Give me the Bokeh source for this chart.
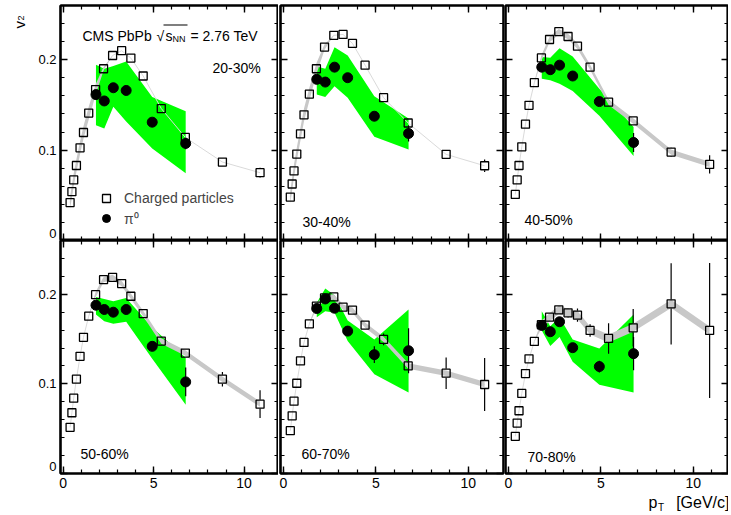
import math
from bokeh.plotting import figure
from bokeh.models import (Range1d, LinearAxis, SingleIntervalTicker, FixedTicker, CustomJSTickFormatter,
                          Label, Legend, LegendItem, BoxAnnotation, ColumnDataSource)
from bokeh.layouts import gridplot
from bokeh.embed import file_html
from bokeh.resources import INLINE

# ---------------- data ----------------
ch_pt = [0.38, 0.48, 0.58, 0.73, 0.93, 1.12, 1.41, 1.79, 2.23, 2.73, 3.23, 3.74, 4.42, 5.42, 6.75, 8.80, 10.88]
pi0_pt = [1.81, 2.27, 2.77, 3.48, 4.92, 6.77]
cent_labels = ["20-30%", "30-40%", "40-50%", "50-60%", "60-70%", "70-80%"]

# charged particle v2
ch_v2_2030 = [0.042, 0.054, 0.067, 0.083, 0.1025, 0.1195, 0.141, 0.167, 0.190, 0.2047, 0.210, 0.2018, 0.182, 0.146, 0.114, 0.0868, 0.075]
ch_v2_3040 = [0.048, 0.0625, 0.077, 0.0956, 0.118, 0.139, 0.162, 0.190, 0.214, 0.227, 0.228, 0.218, 0.194, 0.158, 0.130, 0.0953, 0.0827]
ch_v2_4050 = [0.051, 0.067, 0.083, 0.1036, 0.1287, 0.1496, 0.1746, 0.202, 0.2224, 0.231, 0.2257, 0.215, 0.1918, 0.153, 0.1323, 0.0978, 0.0842]
ch_v2_5060 = [0.0515, 0.0678, 0.0841, 0.1052, 0.1307, 0.152, 0.1756, 0.1996, 0.2163, 0.2189, 0.2119, 0.1978, 0.1785, 0.1478, 0.1344, 0.1052, 0.0774]
ch_v2_6070 = [0.0478, 0.0644, 0.0807, 0.1007, 0.1256, 0.1463, 0.167, 0.1867, 0.1959, 0.197, 0.1856, 0.1822, 0.1656, 0.1496, 0.120, 0.1119, 0.0993]
ch_v2_7080 = [0.0415, 0.0563, 0.070, 0.0893, 0.1115, 0.128, 0.1474, 0.166, 0.1744, 0.1826, 0.1793, 0.1767, 0.1596, 0.1507, 0.1626, 0.1893, 0.1596]

# charged particle statistical errors
ch_err_2030 = [0, 0, 0, 0, 0, 0, 0, 0, 0, 0, 0, 0, 0, 0, 0, 0.003, 0.0055]
ch_err_3040 = [0, 0, 0, 0, 0, 0, 0, 0, 0, 0, 0, 0, 0, 0, 0, 0.003, 0.007]
ch_err_4050 = [0, 0, 0, 0, 0, 0, 0, 0, 0, 0, 0, 0, 0, 0, 0.003, 0.0055, 0.010]
ch_err_5060 = [0, 0, 0, 0, 0, 0, 0, 0, 0, 0, 0, 0, 0, 0, 0.003, 0.008, 0.0156]
ch_err_6070 = [0, 0, 0, 0, 0, 0, 0, 0, 0, 0, 0, 0, 0.003, 0.0065, 0.004, 0.0176, 0.0296]
ch_err_7080 = [0, 0, 0, 0, 0, 0, 0, 0, 0, 0, 0.0055, 0.0074, 0.0069, 0.017, 0.021, 0.0453, 0.0753]

# charged particle systematic band half-widths
ch_sys_2030 = [0.007, 0.007, 0.007, 0.007, 0.007, 0.007, 0.007, 0.006, 0.002, 0, 0, 0, 0, 0, 0, 0, 0]
ch_sys_3040 = [0.007, 0.007, 0.007, 0.007, 0.007, 0.007, 0.007, 0.006, 0.003, 0, 0, 0, 0, 0, 0, 0, 0]
ch_sys_4050 = [0, 0, 0, 0, 0, 0, 0, 0.003, 0.003, 0.003, 0.003, 0.003, 0.003, 0.003, 0.003, 0.003, 0.003]
ch_sys_5060 = [0, 0, 0, 0, 0, 0, 0, 0.003, 0.003, 0.003, 0.003, 0.003, 0.003, 0.003, 0.003, 0.003, 0.003]
ch_sys_6070 = [0, 0, 0, 0, 0, 0, 0, 0.003, 0.003, 0.003, 0.003, 0.003, 0.003, 0.003, 0.003, 0.003, 0.003]
ch_sys_7080 = [0, 0, 0, 0, 0, 0, 0, 0.0045, 0.0045, 0.0045, 0.0045, 0.0045, 0.0045, 0.0045, 0.0045, 0.0045, 0.0045]

# pi0 v2, statistical errors and systematic band (low / high edges)
pi0_v2_2030 = [0.1614, 0.1544, 0.169, 0.166, 0.1309, 0.1074]
pi0_v2_3040 = [0.1783, 0.1753, 0.1918, 0.1801, 0.1375, 0.1184]
pi0_v2_4050 = [0.1918, 0.189, 0.194, 0.182, 0.1537, 0.1085]
pi0_v2_5060 = [0.1878, 0.183, 0.180, 0.183, 0.1419, 0.1022]
pi0_v2_6070 = [0.1841, 0.1948, 0.1844, 0.1589, 0.1326, 0.137]
pi0_v2_7080 = [0.1652, 0.1582, 0.1693, 0.1404, 0.1193, 0.1337]

pi0_err_2030 = [0, 0, 0, 0, 0.003, 0.0065]
pi0_err_3040 = [0, 0, 0, 0, 0.003, 0.009]
pi0_err_4050 = [0, 0, 0, 0, 0.003, 0.0105]
pi0_err_5060 = [0, 0, 0, 0, 0.003, 0.016]
pi0_err_6070 = [0, 0, 0, 0, 0.0093, 0.025]
pi0_err_7080 = [0, 0, 0, 0, 0.0065, 0.0185]

pi0_lo_2030 = [0.1276, 0.124, 0.148, 0.1316, 0.1019, 0.0743]
pi0_hi_2030 = [0.1945, 0.190, 0.193, 0.198, 0.1588, 0.143]
pi0_lo_3040 = [0.1614, 0.1588, 0.1706, 0.158, 0.1147, 0.1008]
pi0_hi_3040 = [0.1926, 0.190, 0.2139, 0.2047, 0.1595, 0.135]
pi0_lo_4050 = [0.179, 0.1772, 0.1735, 0.1654, 0.138, 0.0934]
pi0_hi_4050 = [0.2029, 0.2022, 0.2128, 0.2036, 0.168, 0.1257]
pi0_lo_5060 = [0.1774, 0.170, 0.167, 0.1693, 0.128, 0.0767]
pi0_hi_5060 = [0.197, 0.1948, 0.1922, 0.1959, 0.163, 0.1293]
pi0_lo_6070 = [0.1744, 0.1811, 0.1793, 0.1478, 0.1107, 0.0904]
pi0_hi_6070 = [0.1904, 0.2063, 0.1989, 0.1707, 0.1496, 0.183]
pi0_lo_7080 = [0.1596, 0.1422, 0.1522, 0.1248, 0.0989, 0.0904]
pi0_hi_7080 = [0.1811, 0.1644, 0.1744, 0.1496, 0.1396, 0.1774]

panels = [
    (ch_v2_2030, ch_err_2030, ch_sys_2030, pi0_v2_2030, pi0_err_2030, pi0_lo_2030, pi0_hi_2030),
    (ch_v2_3040, ch_err_3040, ch_sys_3040, pi0_v2_3040, pi0_err_3040, pi0_lo_3040, pi0_hi_3040),
    (ch_v2_4050, ch_err_4050, ch_sys_4050, pi0_v2_4050, pi0_err_4050, pi0_lo_4050, pi0_hi_4050),
    (ch_v2_5060, ch_err_5060, ch_sys_5060, pi0_v2_5060, pi0_err_5060, pi0_lo_5060, pi0_hi_5060),
    (ch_v2_6070, ch_err_6070, ch_sys_6070, pi0_v2_6070, pi0_err_6070, pi0_lo_6070, pi0_hi_6070),
    (ch_v2_7080, ch_err_7080, ch_sys_7080, pi0_v2_7080, pi0_err_7080, pi0_lo_7080, pi0_hi_7080),
]

# ---------------- layout / style ----------------
FONT = "Liberation Sans"
STRIP_W = 32
cols = [(60 - STRIP_W, 218, 0), (2, 223, 1), (1, 223, 0)]   # (border left, frame width, border right)
rows = [(5, 235, 0), (0, 233, 18)]                           # (border top, frame height, border bottom)
PT_STRIP_H = 20
cent_pos = [(152, 173), (22, 19), (19, 21), (20, 20), (21, 20), (22, 17)]
ZERO_LABEL_POS = 0.008   # the "0" tick label sits just above the frame corner

BLANK = "return '';"


def style_axis(ax, show, interval, fsize):
    ax.ticker = SingleIntervalTicker(interval=interval, num_minor_ticks=5)
    ax.major_tick_in = 7
    ax.major_tick_out = 0
    ax.minor_tick_in = 4
    ax.minor_tick_out = 0
    ax.major_tick_line_width = 1.4
    ax.minor_tick_line_width = 1.2
    ax.major_tick_line_color = "black"
    ax.minor_tick_line_color = "black"
    ax.axis_line_width = 2
    ax.axis_line_color = "black"
    ax.major_label_text_font = FONT
    ax.major_label_text_color = "black"
    if show:
        ax.major_label_standoff = 4
        ax.major_label_text_font_size = fsize
    else:
        ax.major_label_standoff = 0
        ax.major_label_text_font_size = "1px"
        ax.formatter = CustomJSTickFormatter(code=BLANK)


def err_gap(x, y, e, gap):
    x0, y0, y1 = [], [], []
    for xi, yi, ei in zip(x, y, e):
        if ei > gap:
            x0 += [xi, xi]
            y0 += [yi + gap, yi - gap]
            y1 += [yi + ei, yi - ei]
    return ColumnDataSource(dict(x0=x0, x1=x0, y0=y0, y1=y1))


def label(p, x, y, text, size, align="left", baseline="alphabetic", angle=0):
    p.add_layout(Label(x=x, y=y, x_units="screen", y_units="screen", text=text,
                       text_font=FONT, text_font_size=size, text_align=align,
                       text_baseline=baseline, angle=angle, text_color="black"))


def strip(w, h):
    s = figure(output_backend="svg", toolbar_location=None, x_axis_type=None, y_axis_type=None,
               x_range=Range1d(0, 1), y_range=Range1d(0, 1), frame_width=w, frame_height=h,
               min_border=0)
    s.outline_line_color = None
    s.background_fill_color = "white"
    s.border_fill_color = "white"
    return s


figs = []
for i, (chv, che, chs, pv, pe, plo, phi) in enumerate(panels):
    r, c = divmod(i, 3)
    bl, fw, br = cols[c]
    bt, fh, bb = rows[r]
    p = figure(output_backend="svg", toolbar_location=None,
               x_range=Range1d(-0.15, 11.9), y_range=Range1d(0, 0.26),
               frame_width=fw, frame_height=fh,
               min_border_left=bl, min_border_right=br, min_border_top=bt, min_border_bottom=bb)
    p.xgrid.visible = False
    p.ygrid.visible = False
    p.outline_line_color = "black"
    p.outline_line_width = 2.2
    p.background_fill_color = "white"
    p.border_fill_color = "white"

    style_axis(p.xaxis[0], r == 1, 5, "14px")
    style_axis(p.yaxis[0], False, 0.1, "1px")
    if c == 0:
        ax_lab = LinearAxis(ticker=FixedTicker(ticks=[ZERO_LABEL_POS, 0.1, 0.2], minor_ticks=[]),
                            formatter=CustomJSTickFormatter(
                                code="return tick < 0.05 ? '0' : tick.toFixed(1);"))
        ax_lab.major_tick_in = 0
        ax_lab.major_tick_out = 0
        ax_lab.minor_tick_in = 0
        ax_lab.minor_tick_out = 0
        ax_lab.major_tick_line_color = None
        ax_lab.minor_tick_line_color = None
        ax_lab.axis_line_color = None
        ax_lab.major_label_standoff = 4
        ax_lab.major_label_text_font = FONT
        ax_lab.major_label_text_font_size = "13px"
        ax_lab.major_label_text_color = "black"
        p.add_layout(ax_lab, "left")
    ax_r = LinearAxis()
    style_axis(ax_r, False, 0.1, "1px")
    p.add_layout(ax_r, "right")
    ax_t = LinearAxis()
    style_axis(ax_t, False, 5, "1px")
    p.add_layout(ax_t, "above")

    # pi0 systematic band
    p.varea(x=pi0_pt, y1=plo, y2=phi, fill_color="#00ff00", fill_alpha=1)
    # charged systematic band and connecting line
    lo = [v - s for v, s in zip(chv, chs)]
    hi = [v + s for v, s in zip(chv, chs)]
    p.line(x=ch_pt, y=chv, line_color="#dadada", line_width=1)
    p.varea(x=ch_pt, y1=lo, y2=hi, fill_color="#c8c8c8", fill_alpha=1)
    # charged errors and markers
    p.segment(x0="x0", y0="y0", x1="x1", y1="y1", source=err_gap(ch_pt, chv, che, 0.005),
              line_color="black", line_width=1.2)
    sq = p.scatter(x=ch_pt, y=chv, marker="square", size=8, fill_color=None,
                   line_color="black", line_width=1.3)
    # pi0 errors and markers
    p.segment(x0="x0", y0="y0", x1="x1", y1="y1", source=err_gap(pi0_pt, pv, pe, 0.0),
              line_color="black", line_width=1.2)
    ci = p.scatter(x=pi0_pt, y=pv, marker="circle", size=10, fill_color="black",
                   line_color="black")

    cx, cy = cent_pos[i]
    label(p, cx, cy, cent_labels[i], "14px")

    if i == 0:
        legend = Legend(items=[LegendItem(label="Charged particles", renderers=[sq]),
                               LegendItem(label="π⁰", renderers=[ci])],
                        location=(36, 12), padding=0, margin=0, spacing=0,
                        glyph_width=20, glyph_height=20, label_height=20, label_standoff=8,
                        label_text_font=FONT, label_text_font_size="14px",
                        background_fill_alpha=0, border_line_color=None)
        p.add_layout(legend)
        # header
        label(p, 22, 205, "CMS PbPb", "14px")
        label(p, 96, 205, "√", "14px")
        label(p, 105, 205, "s", "14px")
        label(p, 112, 202, "NN", "9px")
        label(p, 130, 205, "= 2.76 TeV", "14px")
        p.add_layout(BoxAnnotation(left=103, right=127, top=216, bottom=215,
                                   left_units="screen", right_units="screen",
                                   top_units="screen", bottom_units="screen",
                                   fill_color="black", fill_alpha=1, line_color=None))
    figs.append(p)

# y axis title strip (left of the top row)
vfig = strip(STRIP_W, rows[0][0] + rows[0][1] + rows[0][2])
label(vfig, 19, 217, "v", "15px", angle=math.pi / 2)
label(vfig, 20, 225, "2", "9px", angle=math.pi / 2)

# x axis title strip (below the right column)
pfig = strip(cols[2][0] + cols[2][1] + cols[2][2], PT_STRIP_H)
label(pfig, 143, 9, "p", "16px")
label(pfig, 152.5, 4, "T", "10px")
label(pfig, 224, 9, "[GeV/c]", "16px", align="right")

grid = gridplot([[vfig, figs[0], figs[1], figs[2]],
                 [None, figs[3], figs[4], figs[5]],
                 [None, None, None, pfig]], toolbar_location=None)

open("out.html", "w").write(file_html(grid, INLINE))
